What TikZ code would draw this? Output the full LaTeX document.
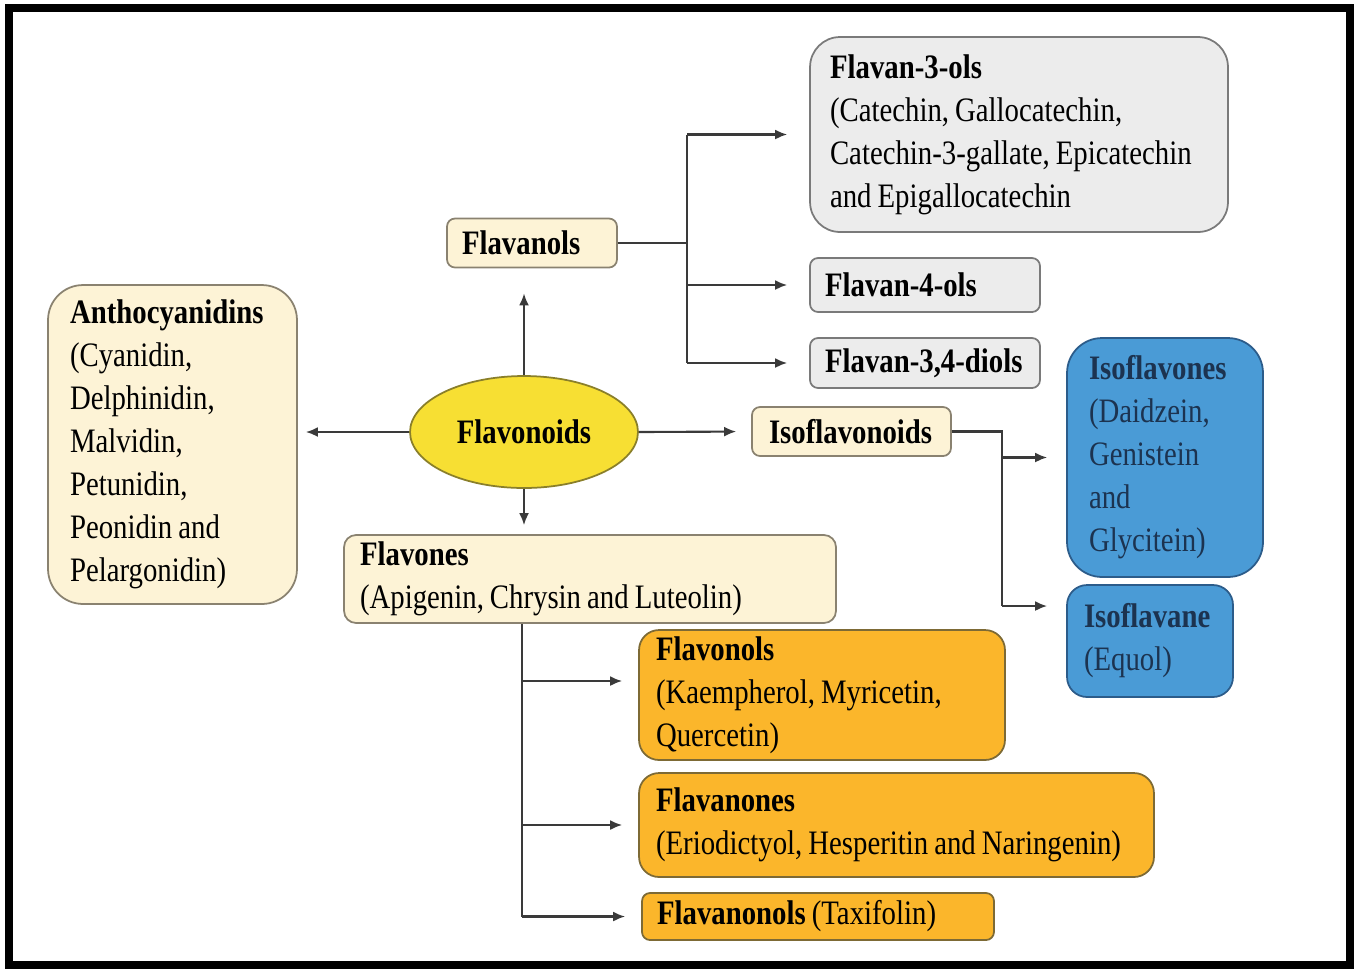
\documentclass[tikz,border=0pt]{standalone}
\usepackage{fontspec}
\setmainfont[FakeStretch=0.84,WordSpace=0.84]{Liberation Serif}
\usetikzlibrary{arrows.meta,shapes.geometric}
\definecolor{cream}{HTML}{FDF3D6}
\definecolor{creamline}{HTML}{8A8270}
\definecolor{grayfill}{HTML}{ECECEC}
\definecolor{grayline}{HTML}{7A7A7A}
\definecolor{bluefill}{HTML}{4A9BD6}
\definecolor{blueline}{HTML}{2C5C8A}
\definecolor{bluetext}{HTML}{1C3350}
\definecolor{orangefill}{HTML}{FBB62B}
\definecolor{orangeline}{HTML}{7D6A35}
\definecolor{yellowfill}{HTML}{F7DF33}
\definecolor{yellowline}{HTML}{8A7F2A}
\definecolor{linkcol}{HTML}{3A3A3A}
\begin{document}
\begin{tikzpicture}[x=0.02cm,y=-0.02cm,
	font=\fontsize{19.5}{24.45}\selectfont,
	box/.style={draw,line width=1pt,align=flush left,inner ysep=0pt,
		execute at begin node={\spaceskip=0pt\xspaceskip=0pt\hyphenpenalty=10000\exhyphenpenalty=10000}},
	creambox/.style={box,fill=cream,draw=creamline},
	graybox/.style={box,fill=grayfill,draw=grayline},
	bluebox/.style={box,fill=bluefill,draw=blueline,text=bluetext},
	orangebox/.style={box,fill=orangefill,draw=orangeline},
	link/.style={draw=linkcol,line width=1.2pt},
	arr/.style={link,-{Latex[length=0.24cm,width=0.2cm]}}]
		\useasboundingbox (0,0) rectangle (1354,968);
		\draw[line width=0.16cm] (9,8) rectangle (1349.5,965);

		% centre
		\node[ellipse,draw=yellowline,fill=yellowfill,line width=1pt,minimum width=4.56cm,minimum height=2.24cm,inner sep=0pt] (fvd) at (524,432) {\textbf{Flavonoids}};

		% flavanols branch
		\node[creambox,rounded corners=0.16cm,text width=2.8cm,inner xsep=0.3cm,minimum height=0.98cm] (flv) at (532,243) {\textbf{Flavanols}};
		\node[graybox,rounded corners=0.6cm,text width=7.56cm,inner xsep=0.4cm,minimum height=3.9cm] (fl3) at (1019,134.5) {\textbf{Flavan-3-ols}\\(Catechin, Gallocatechin,\\Catechin-3-gallate, Epicatechin\\and Epigallocatechin};
		\node[graybox,rounded corners=0.16cm,text width=4cm,inner xsep=0.3cm,minimum height=1.08cm] (fl4) at (925,285) {\textbf{Flavan-4-ols}};
		\node[graybox,rounded corners=0.16cm,text width=4cm,inner xsep=0.3cm,minimum height=1cm] (fl34) at (925,363) {\textbf{Flavan-3,4-diols}};

		% anthocyanidins
		\node[creambox,rounded corners=0.7cm,text width=4.1cm,inner xsep=0.44cm,minimum height=6.38cm] (ant) at (172.5,444.5) {\textbf{Anthocyanidins}\\(Cyanidin,\\Delphinidin,\\Malvidin,\\Petunidin,\\Peonidin and\\Pelargonidin)};

		% isoflavonoids branch
		\node[creambox,rounded corners=0.16cm,text width=3.3cm,inner xsep=0.34cm,minimum height=0.98cm] (isf) at (851.5,431.5) {\textbf{Isoflavonoids}};
		\node[bluebox,rounded corners=0.7cm,text width=3.04cm,inner xsep=0.44cm,minimum height=4.78cm] (isv) at (1165,457.5) {\textbf{Isoflavones}\\(Daidzein,\\Genistein\\and\\Glycitein)};
		\node[bluebox,rounded corners=0.4cm,text width=2.64cm,inner xsep=0.34cm,minimum height=2.24cm] (isa) at (1150,641) {\textbf{Isoflavane}\\(Equol)};

		% flavones branch
		\node[creambox,rounded corners=0.24cm,text width=9.2cm,inner xsep=0.32cm,minimum height=1.76cm] (fvn) at (590,579) {\textbf{Flavones}\\(Apigenin, Chrysin and Luteolin)};
		\node[orangebox,rounded corners=0.4cm,text width=6.64cm,inner xsep=0.34cm,minimum height=2.6cm] (fnl) at (822,695) {\textbf{Flavonols}\\(Kaempherol, Myricetin,\\Quercetin)};
		\node[orangebox,rounded corners=0.4cm,text width=9.62cm,inner xsep=0.34cm,minimum height=2.08cm] (fnn) at (896.5,825) {\textbf{Flavanones}\\(Eriodictyol, Hesperitin and Naringenin)};
		\node[orangebox,rounded corners=0.16cm,text width=6.44cm,inner xsep=0.3cm,minimum height=0.94cm] (fnnl) at (818,916.5) {\textbf{Flavanonols} (Taxifolin)};

		% junctions
		\coordinate (jf) at (687,241);
		\coordinate (ji) at (1002,432);
		\coordinate (jv) at (522,623);
		\coordinate (isain) at ([yshift=0.7cm]isa.west);
		\coordinate (fnlin) at ([yshift=0.28cm]fnl.west);

		\draw[arr,shorten >=0.5cm] (fvd.north) -- (fvd.north |- flv.south);
		\draw[arr,shorten >=0.18cm] (fvd.south) -- (fvd.south |- fvn.north);
		\draw[arr,shorten >=0.16cm] (fvd.west) -- (fvd.west -| ant.east);
		\draw[arr,shorten >=0.3cm] (fvd.east) -- (isf.west);

		\draw[link] (flv.east) -- (jf |- flv.east);
		\draw[link] (jf |- fl3.west) -- (jf |- fl34.west);
		\draw[arr,shorten >=0.44cm] (jf |- fl3.west) -- (fl3.west);
		\draw[arr,shorten >=0.44cm] (jf |- fl4.west) -- (fl4.west);
		\draw[arr,shorten >=0.44cm] (jf |- fl34.west) -- (fl34.west);

		\draw[link] (isf.east) -- (ji |- isf.east) -- (ji |- isain);
		\draw[arr,shorten >=0.38cm] (ji |- isv.west) -- (isv.west);
		\draw[arr,shorten >=0.38cm] (ji |- isain) -- (isain);

		\draw[link] (jv |- fvn.south) -- (jv |- fnnl.west);
		\draw[arr,shorten >=0.32cm] (jv |- fnlin) -- (fnlin);
		\draw[arr,shorten >=0.32cm] (jv |- fnn.west) -- (fnn.west);
		\draw[arr,shorten >=0.32cm] (jv |- fnnl.west) -- (fnnl.west);
	\end{tikzpicture}
\end{document}
